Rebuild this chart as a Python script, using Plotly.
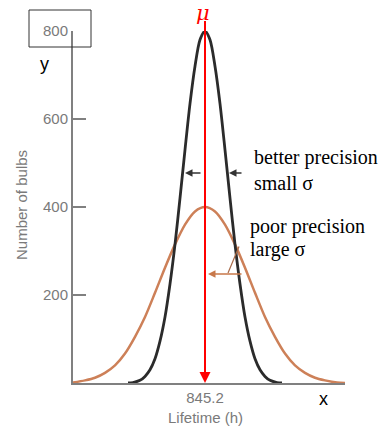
import plotly.graph_objects as go

mean_h = 845.2
# offsets from the mean (h) and counts
black_dx = [-77, -72, -65, -60, -55, -50, -45, -40, -35, -30, -25, -20, -15, -10, -5, 0,
            5, 10, 15, 20, 25, 30, 35, 40, 45, 50, 55, 60, 65, 72, 77]
black_n = [0, 1, 6, 15, 30, 55, 95, 150, 225, 315, 420, 530, 635, 720, 780, 800,
           780, 720, 635, 530, 420, 315, 225, 150, 95, 55, 30, 15, 6, 1, 0]
orange_dx = [-132, -120, -110, -100, -90, -80, -70, -60, -50, -40, -30, -20, -10, 0,
             10, 20, 30, 40, 50, 60, 70, 80, 90, 100, 110, 120, 132, 140]
orange_n = [1, 6, 12, 23, 40, 67, 105, 150, 205, 262, 315, 360, 390, 400,
            390, 360, 315, 262, 205, 150, 105, 67, 40, 23, 12, 6, 1, 0]
y_ticks = [200, 400, 600, 800]
x_range_dx = [-132, 140]

bx = [mean_h + d for d in black_dx]
ox = [mean_h + d for d in orange_dx]

fig = go.Figure()
fig.add_trace(go.Scatter(x=ox, y=orange_n, mode="lines",
                         line=dict(color="#cd8058", width=2.5, shape="spline", smoothing=0.8),
                         hoverinfo="skip"))
fig.add_trace(go.Scatter(x=bx, y=black_n, mode="lines",
                         line=dict(color="#2b2b2b", width=2.8, shape="spline", smoothing=0.8),
                         hoverinfo="skip"))

gray = "#808080"
lab = "#7a7a7a"
fig.update_layout(
    width=392, height=427,
    margin=dict(l=73, r=47, t=31, b=44),
    paper_bgcolor="white", plot_bgcolor="white",
    showlegend=False,
    xaxis=dict(range=[mean_h + x_range_dx[0], mean_h + x_range_dx[1]], showgrid=False, zeroline=False,
               showline=True, linecolor=gray, linewidth=2,
               tickvals=[mean_h], ticktext=["845.2"], ticks="",
               tickfont=dict(family="Arial", size=15, color=lab)),
    yaxis=dict(range=[0, 800], showgrid=False, zeroline=False,
               showline=True, linecolor=gray, linewidth=2,
               tickvals=y_ticks, ticks="inside", ticklen=13, tickcolor=gray, tickwidth=1.5,
               tickfont=dict(family="Arial", size=15, color=lab)),
)

ann = []
# axis titles
ann.append(dict(text="Number of bulbs", xref="paper", yref="paper", x=(22 - 73) / 272, y=(383 - 205) / 352,
                xanchor="center", yanchor="middle",
                textangle=-90, showarrow=False, font=dict(family="Arial", size=15, color=lab)))
ann.append(dict(text="Lifetime (h)", xref="x", yref="paper", x=mean_h, y=(383 - 417) / 352,
                xanchor="center", yanchor="middle", showarrow=False,
                font=dict(family="Arial", size=15, color=lab)))
# mean arrow
ann.append(dict(x=mean_h, y=0, ax=mean_h, ay=826, xref="x", yref="y", axref="x", ayref="y",
                text="", showarrow=True, arrowhead=2, arrowsize=1.1, arrowwidth=2, arrowcolor="#ff0000"))
ann.append(dict(text="<i>μ</i>", x=mean_h, xref="x", yref="paper", y=(383 - 13) / 352, xshift=-2,
                xanchor="center", yanchor="middle", showarrow=False,
                font=dict(family="DejaVu Serif", size=21, color="#ff0000")))
# width arrows (black)
ann.append(dict(x=mean_h - 20, y=477, ax=mean_h - 3, ay=477, xref="x", yref="y", axref="x", ayref="y",
                text="", showarrow=True, arrowhead=2, arrowsize=1, arrowwidth=1.5, arrowcolor="#333"))
ann.append(dict(x=mean_h + 24, y=477, ax=mean_h + 38, ay=477, xref="x", yref="y", axref="x", ayref="y",
                text="", showarrow=True, arrowhead=2, arrowsize=1, arrowwidth=1.5, arrowcolor="#333"))
# width arrow (orange)
ann.append(dict(x=mean_h + 3, y=248, ax=mean_h + 38, ay=248, xref="x", yref="y", axref="x", ayref="y",
                text="", showarrow=True, arrowhead=2, arrowsize=1, arrowwidth=1.5, arrowcolor="#c8784a"))
# texts
serif = "Liberation Serif"
for txt, yy in [("better precision", 157), ("small σ", 183)]:
    ann.append(dict(text=txt, xref="paper", yref="paper", x=(252 - 73) / 272, y=(383 - yy) / 352,
                    xanchor="left", yanchor="middle", showarrow=False, font=dict(family=serif, size=20, color="black")))
for txt, yy in [("poor precision", 226), ("large σ", 249)]:
    ann.append(dict(text=txt, xref="paper", yref="paper", x=(248 - 73) / 272, y=(383 - yy) / 352,
                    xanchor="left", yanchor="middle", showarrow=False, font=dict(family=serif, size=20, color="black")))
ann.append(dict(text="y", xref="paper", yref="paper", x=(44 - 73) / 272, y=(383 - 64) / 352,
                xanchor="center", yanchor="middle",
                showarrow=False, font=dict(family="Arial", size=18, color="black")))
ann.append(dict(text="x", xref="paper", yref="paper", x=(323 - 73) / 272, y=(383 - 399) / 352,
                xanchor="center", yanchor="middle",
                showarrow=False, font=dict(family="Arial", size=18, color="black")))
fig.update_layout(annotations=ann)

fig.add_shape(type="rect", xref="paper", yref="paper", x0=(29 - 73) / 272, x1=(91 - 73) / 272,
              y0=(383 - 47) / 352, y1=(383 - 10) / 352, line=dict(color="#333", width=1))
fig.add_shape(type="line", xref="x", yref="y", x0=mean_h + 23, y0=250, x1=mean_h + 34, y1=310,
              line=dict(color="#a86a48", width=1.2))

fig.write_html("out.html")
